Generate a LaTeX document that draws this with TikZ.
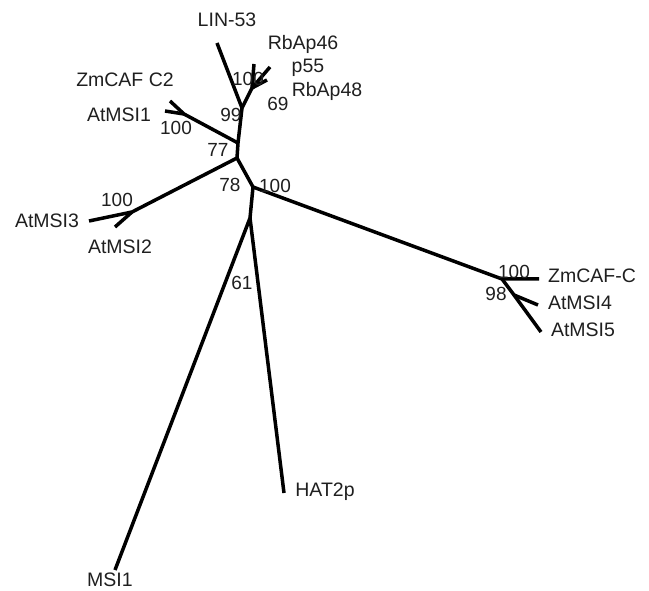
\documentclass[tikz,border=0pt]{standalone}
\usepackage{fontspec}
\setmainfont{Liberation Sans}
\begin{document}
\begin{tikzpicture}[x=1pt,y=-1pt,
  br/.style={line width=3.5pt,line join=round},
  lab/.style={font=\fontsize{19.5}{22}\selectfont,text=black!88,inner sep=0pt,anchor=center},
  bs/.style={font=\fontsize{19}{22}\selectfont,text=black!88,inner sep=0pt,anchor=center}]
\useasboundingbox (0,0) rectangle (649,591);
% internal nodes
\coordinate (n99) at (242,108);
\coordinate (n77) at (238,143);
\coordinate (nB) at (237,158);
\coordinate (n78) at (253,187);
\coordinate (nM) at (250,218);
\coordinate (nR) at (252,88);
\coordinate (nZ) at (184,114);
\coordinate (nA3) at (132,212);
\coordinate (nX) at (502,279);
\coordinate (nY) at (514,295);
% tips
\coordinate (tLIN) at (217,43);
\coordinate (t46) at (254,64);
\coordinate (t55) at (270,67);
\coordinate (t48) at (267,80);
\coordinate (tZC2) at (170,101);
\coordinate (tM1) at (165,111);
\coordinate (tM3) at (89,221);
\coordinate (tM2) at (115,227);
\coordinate (tZC) at (539,279);
\coordinate (tM4) at (538,305);
\coordinate (tM5) at (541,332);
\coordinate (tMSI1) at (115,570);
\coordinate (tHAT) at (284,493);
% branches
\draw[br] (tLIN) -- (n99) -- (n77) -- (nB) -- (n78) -- (nM);
\draw[br] (n99) -- (nR);
\draw[br] (nR) -- (t46);
\draw[br] (nR) -- (t55);
\draw[br] (nR) -- (t48);
\draw[br] (n77) -- (nZ) -- (tZC2);
\draw[br] (nZ) -- (tM1);
\draw[br] (nB) -- (nA3) -- (tM3);
\draw[br] (nA3) -- (tM2);
\draw[br] (n78) -- (nX) -- (tZC);
\draw[br] (nX) -- (nY) -- (tM5);
\draw[br] (nY) -- (tM4);
\draw[br] (nM) -- (tMSI1);
\draw[br] (nM) -- (tHAT);
% leaf labels
\node[lab] (lLIN) at (227,20) {LIN-53};
\node[lab] (l46) at (303,44) {RbAp46};
\node[lab] (l55) at (308,68) {p55};
\node[lab] (l48) at (327,91) {RbAp48};
\node[lab] (lZC2) at (125,80) {ZmCAF C2};
\node[lab] (lM1) at (119,115) {AtMSI1};
\node[lab] (lM3) at (47,221) {AtMSI3};
\node[lab] (lM2) at (120,247) {AtMSI2};
\node[lab] (lZC) at (592,276) {ZmCAF-C};
\node[lab] (lM4) at (580,303) {AtMSI4};
\node[lab] (lM5) at (583,330) {AtMSI5};
\node[lab] (lHAT) at (325,492) {HAT2p};
\node[lab] (lMSI1) at (110,580) {MSI1};
% bootstrap values
\node[bs] (b1) at (248,79) {100};
\node[bs] (b2) at (278,104) {69};
\node[bs] (b3) at (231,115) {99};
\node[bs] (b4) at (218,150) {77};
\node[bs] (b5) at (230,185) {78};
\node[bs] (b6) at (275,186) {100};
\node[bs] (b7) at (176,128) {100};
\node[bs] (b8) at (117,200) {100};
\node[bs] (b9) at (242,283) {61};
\node[bs] (b10) at (514,272) {100};
\node[bs] (b11) at (496,294) {98};
\end{tikzpicture}
\end{document}
